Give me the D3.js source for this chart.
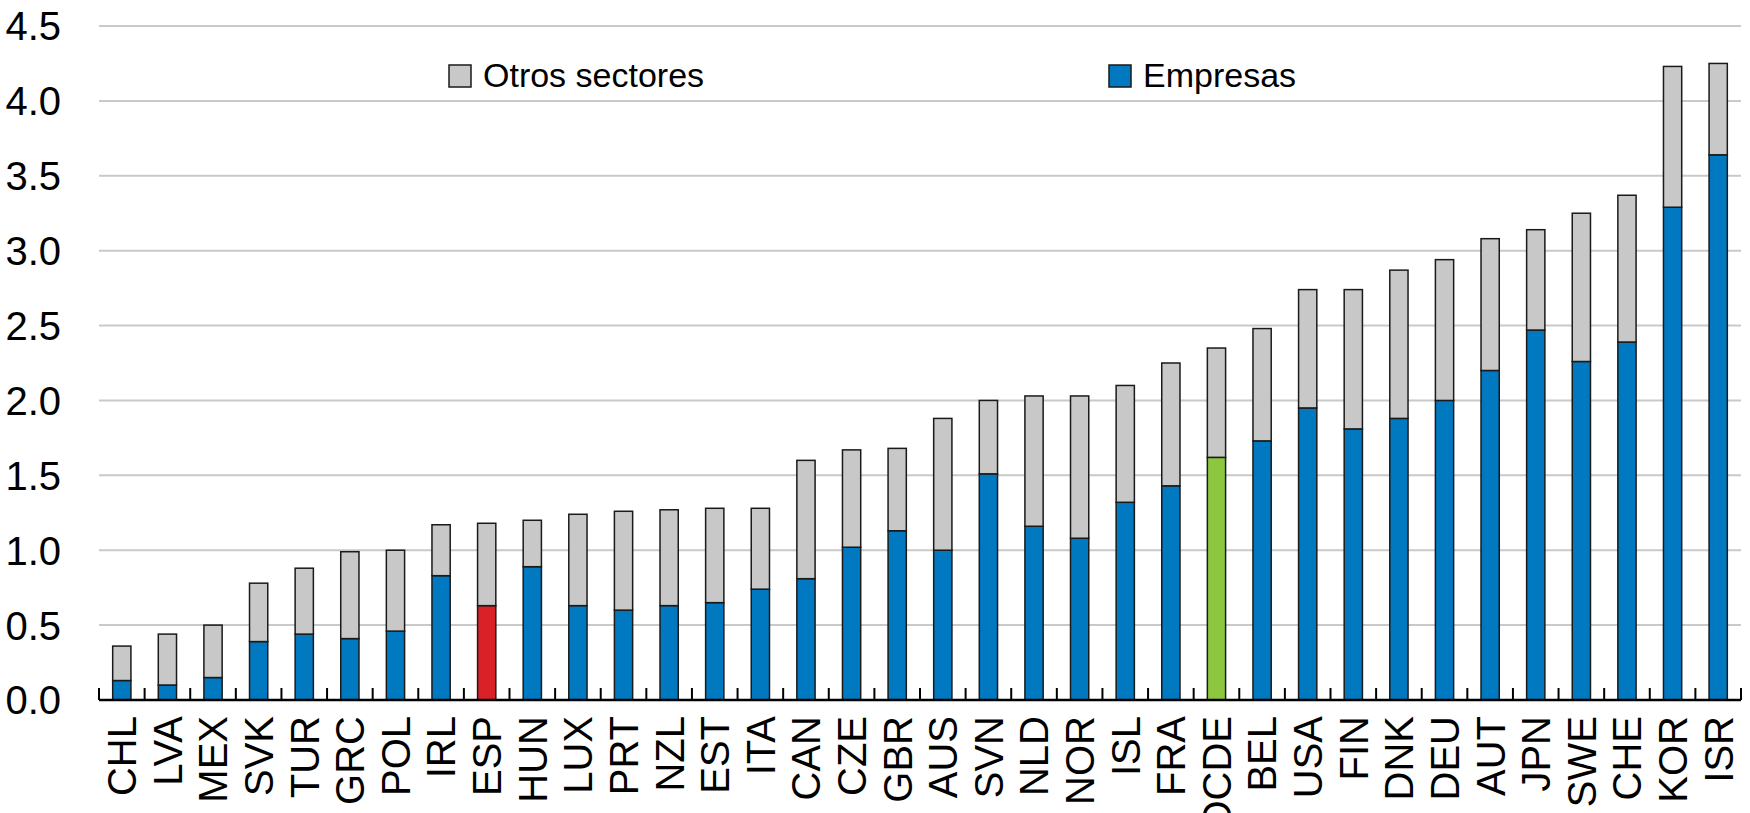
<!DOCTYPE html>
<html>
<head>
<meta charset="utf-8">
<script src="https://cdn.jsdelivr.net/npm/d3@7"></script>
<style>
  body { margin: 0; background: #fff; }
  svg text { fill: #000; }
</style>
</head>
<body>
<script>
    const countries = ['CHL', 'LVA', 'MEX', 'SVK', 'TUR', 'GRC', 'POL', 'IRL', 'ESP', 'HUN',
        'LUX', 'PRT', 'NZL', 'EST', 'ITA', 'CAN', 'CZE', 'GBR', 'AUS', 'SVN', 'NLD', 'NOR',
        'ISL', 'FRA', 'OCDE', 'BEL', 'USA', 'FIN', 'DNK', 'DEU', 'AUT', 'JPN', 'SWE', 'CHE',
        'KOR', 'ISR'];

    // gasto en I+D, % del PIB
    const empresas = [0.13, 0.10, 0.15, 0.39, 0.44, 0.41, 0.46, 0.83, 0.63, 0.89,
        0.63, 0.60, 0.63, 0.65, 0.74, 0.81, 1.02, 1.13, 1.00, 1.51, 1.16, 1.08,
        1.32, 1.43, 1.62, 1.73, 1.95, 1.81, 1.88, 2.00, 2.20, 2.47, 2.26, 2.39,
        3.29, 3.64];
    const otros = [0.23, 0.34, 0.35, 0.39, 0.44, 0.58, 0.54, 0.34, 0.55, 0.31,
        0.61, 0.66, 0.64, 0.63, 0.54, 0.79, 0.65, 0.55, 0.88, 0.49, 0.87, 0.95,
        0.78, 0.82, 0.73, 0.75, 0.79, 0.93, 0.99, 0.94, 0.88, 0.67, 0.99, 0.98,
        0.94, 0.61];

    const yTicks = [0, 0.5, 1.0, 1.5, 2.0, 2.5, 3.0, 3.5, 4.0, 4.5];

    const width = 1750;
    const height = 813;
    const margin = {top: 26, left: 99, right: 9, bottom: 113};

    const blue = '#0079c1';
    const grey = '#c8c8c8';
    const highlight = {ESP: '#da2128', OCDE: '#8dc63f'};
    const narrow = '"Liberation Sans Narrow", "Arial Narrow", sans-serif';

    const rows = countries.map((c, i) => ({country: c, empresas: empresas[i], otros: otros[i]}));

    const svg = d3.select('body')
        .append('svg')
        .attr('width', width)
        .attr('height', height);

    const x = d3.scaleBand()
        .domain(countries)
        .range([margin.left, width - margin.right])
        .padding(0);

    const y = d3.scaleLinear()
        .domain([0, 4.5])
        .range([height - margin.bottom, margin.top]);

    // gridlines
    svg.append('g')
        .selectAll('line')
        .data(yTicks.filter(t => t > 0))
        .enter().append('line')
        .attr('x1', margin.left)
        .attr('x2', width - margin.right)
        .attr('y1', d => y(d))
        .attr('y2', d => y(d))
        .attr('stroke', '#c9c9c9')
        .attr('stroke-width', 2);

    // y labels
    svg.append('g')
        .selectAll('text')
        .data(yTicks)
        .enter().append('text')
        .attr('x', 61)
        .attr('y', d => y(d))
        .attr('dy', '0.36em')
        .attr('text-anchor', 'end')
        .style('font-family', narrow)
        .style('font-size', '40px')
        .text(d => d.toFixed(1));

    const stack = d3.stack().keys(['empresas', 'otros']);
    const series = stack(rows);

    const barW = x.bandwidth() * 0.4;

    svg.append('g')
        .selectAll('g')
        .data(series)
        .enter().append('g')
        .selectAll('rect')
        .data(s => s.map(d => Object.assign({key: s.key}, d)))
        .enter().append('rect')
        .attr('x', d => x(d.data.country) + (x.bandwidth() - barW) / 2)
        .attr('width', barW)
        .attr('y', d => y(d[1]))
        .attr('height', d => y(d[0]) - y(d[1]))
        .attr('fill', d => d.key === 'otros' ? grey : (highlight[d.data.country] || blue))
        .attr('stroke', '#1a1a1a')
        .attr('stroke-width', 1.5);

    // x axis: baseline and ticks between categories
    const base = y(0);
    svg.append('line')
        .attr('x1', margin.left)
        .attr('x2', width - margin.right)
        .attr('y1', base)
        .attr('y2', base)
        .attr('stroke', '#000')
        .attr('stroke-width', 2.5);

    const edges = countries.map(c => x(c)).concat([x.range()[1]]);
    svg.append('g')
        .selectAll('line')
        .data(edges)
        .enter().append('line')
        .attr('x1', d => d)
        .attr('x2', d => d)
        .attr('y1', base)
        .attr('y2', base - 12)
        .attr('stroke', '#000')
        .attr('stroke-width', 2);

    svg.append('g')
        .selectAll('text')
        .data(countries)
        .enter().append('text')
        .attr('transform', d => `translate(${x(d) + x.bandwidth() / 2},${base + 16}) rotate(-90)`)
        .attr('dy', '0.36em')
        .attr('text-anchor', 'end')
        .style('font-family', narrow)
        .style('font-size', '40px')
        .text(d => d);

    // legend
    const legend = [
        {label: 'Otros sectores', color: grey, x: 449},
        {label: 'Empresas', color: blue, x: 1109}
    ];
    const lg = svg.append('g')
        .selectAll('g')
        .data(legend)
        .enter().append('g')
        .attr('transform', d => `translate(${d.x},65)`);
    lg.append('rect')
        .attr('width', 22)
        .attr('height', 22)
        .attr('fill', d => d.color)
        .attr('stroke', '#1a1a1a')
        .attr('stroke-width', 1.5);
    lg.append('text')
        .attr('x', 34)
        .attr('y', 22)
        .style('font-family', '"Liberation Sans", Arial, sans-serif')
        .style('font-size', '34px')
        .text(d => d.label);
</script>
</body>
</html>
